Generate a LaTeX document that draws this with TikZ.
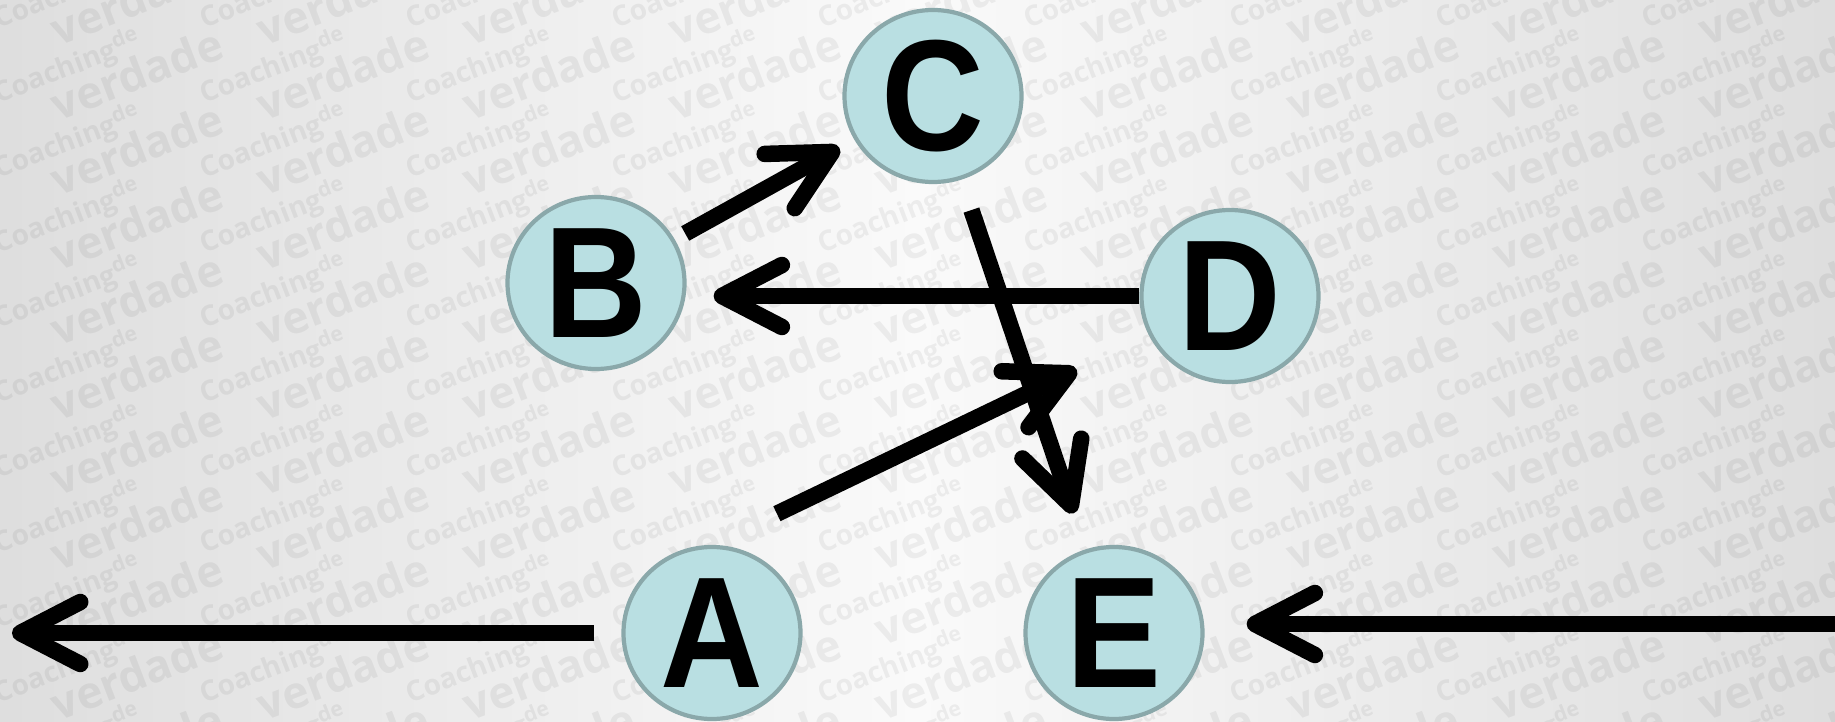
\documentclass[tikz,border=0pt]{standalone}
\usepackage{fontspec}
\usepackage{xcolor}
\usepackage{tikz}
\usetikzlibrary{arrows.meta,shapes.geometric}

\newfontfamily\lettersf{Liberation Sans}[FakeStretch=0.9]
\newfontfamily\wmsf{Open Sans}
\definecolor{nodefill}{RGB}{185,223,226}
\definecolor{nodeline}{RGB}{138,168,170}

\begin{document}
\begin{tikzpicture}[
		letter/.style={
			ellipse,
			draw=nodeline,
			fill=nodefill,
			line width=1.2pt,
			minimum width=1.77cm,
			minimum height=1.72cm,
			inner sep=0pt,
			font=\lettersf\bfseries\fontsize{45}{45}\selectfont
			},
		arr/.style={
			line width=4.7pt,
			color=black,
			-{Straight Barb[length=6mm,width=6.2mm,round]}
			},
		wmsmall/.style={
			anchor=base west,
			text=black,
			text opacity=0.055,
			font=\wmsf\bfseries\fontsize{8}{8}\selectfont
			},
		wmbig/.style={
			anchor=base west,
			text=black,
			text opacity=0.055,
			font=\wmsf\bfseries\fontsize{12.6}{12}\selectfont
			}
		]

		\useasboundingbox (0,0) rectangle (18.35,7.21);
		\shade[left color=black!13, right color=black!13, middle color=black!2] (0,0) rectangle (18.35,7.21);

		\begin{scope}
			\clip (0,0) rectangle (18.35,7.21);
			\foreach \i in {-1,...,8}
				\foreach \j in {-2,...,9}
				{
					\begin{scope}[shift={(1.93+2.06*\i, 0.13+0.75*\j)}, rotate=21, transform shape]
						\node[wmsmall] at (0,0) {Coaching\textsuperscript{de}};
						\node[wmbig] at (0.5,-0.38) {verdade};
					\end{scope}
				}
		\end{scope}

		\node[letter] (C) at (9.33,6.25) {C};
		\node[letter] (B) at (5.96,4.38) {B};
		\node[letter] (D) at (12.30,4.25) {D};
		\node[letter] (A) at (7.12,0.88) {A};
		\node[letter] (E) at (11.14,0.88) {E};

		\coordinate (out) at (0.12,0.88);
		\coordinate (in) at (18.6,0.97);

		\draw[arr, shorten <=0.27cm] (A) -- (out);
		\draw[arr, shorten >=0.42cm] (in) -- (E.east |- in);
		\draw[arr, shorten <=0.12cm, shorten >=0.17cm] (B) -- (C);
		\draw[arr, shorten >=0.27cm] (D) -- (B.east |- D);
		\draw[arr, shorten <=0.32cm, shorten >=0.38cm] (C) -- (E);
		\draw[arr, shorten <=0.72cm, shorten >=0.80cm] (A.north) -- (D);
	\end{tikzpicture}
\end{document}
